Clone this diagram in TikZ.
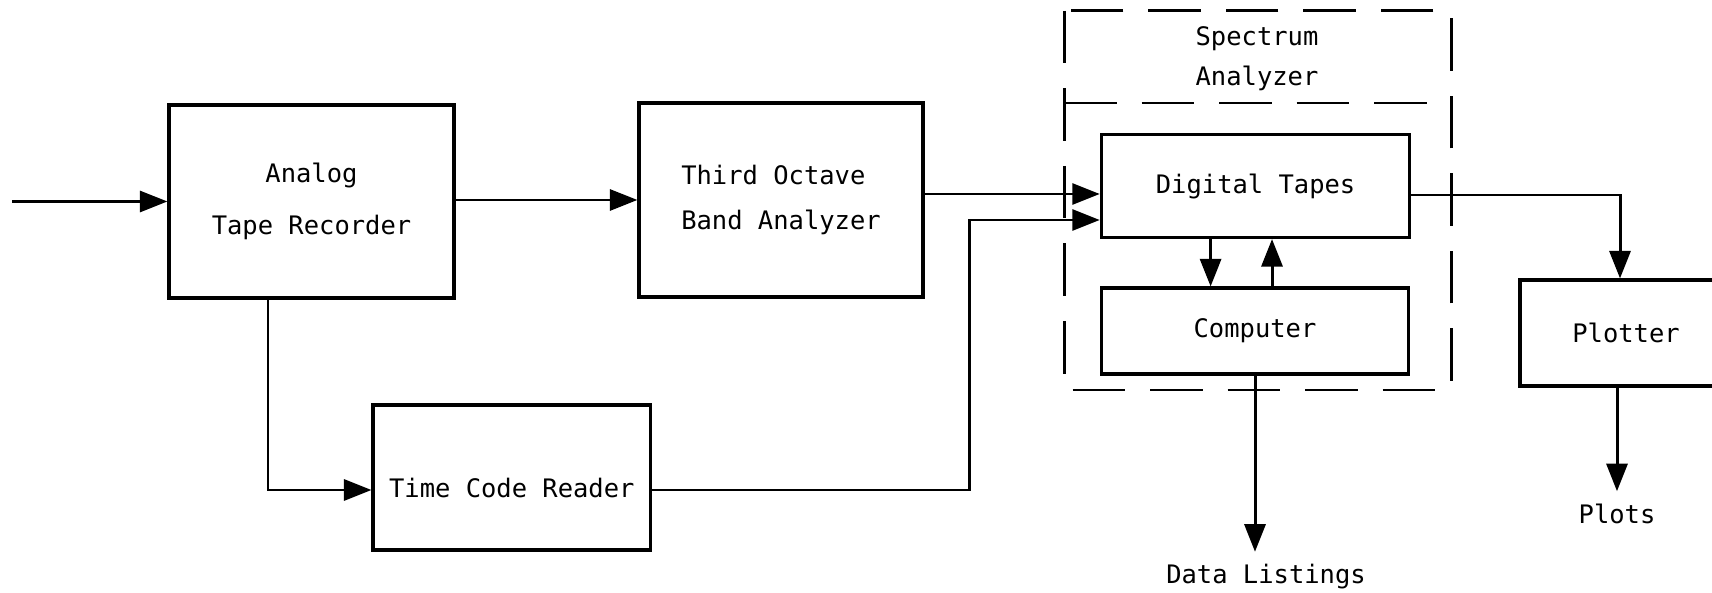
\documentclass[tikz,border=0pt]{standalone}
\usepackage{fontspec}
\setmainfont{DejaVu Sans Mono}
\usetikzlibrary{positioning,arrows.meta}

\begin{document}
\begin{tikzpicture}[x=0.2mm,y=-0.2mm]
\tikzstyle{block}=[draw,line width=1.8pt,align=center,font=\fontsize{14.5}{30}\selectfont]
\tikzstyle{flow}=[line width=1.7pt,-{Triangle[length=5.5mm,width=4.2mm]}]
\tikzstyle{outtext}=[inner sep=2.5mm,font=\fontsize{14.5}{20}\selectfont]
\tikzstyle{group}=[line width=1.7pt,dash pattern=on 10.5mm off 5mm]
\useasboundingbox (0,0) rectangle (1712,593);
\clip (0,0) rectangle (1712,593);
\node[block,minimum width=57mm,minimum height=38.6mm] (atr) at (311.5,201.5) {Analog\\Tape Recorder};
\node[block,align=left,font=\fontsize{14.5}{25.6}\selectfont,minimum width=56.8mm,minimum height=38.8mm] (toba) at (781,200) {Third Octave\\Band Analyzer};
\node[block,minimum width=55.5mm,minimum height=29mm,text height=8mm,text depth=0pt] (tcr) at (511.8,477.5) {Time Code Reader};
\node[block,minimum width=61.7mm,minimum height=20.6mm] (dt) at (1255.6,186) {Digital Tapes};
\node[block,minimum width=61.4mm,minimum height=17.2mm] (comp) at (1255,331) {Computer};
\node[block,minimum width=42.4mm,minimum height=21.2mm] (plotter) at (1626,333) {Plotter};
% spectrum analyzer frame
\draw[group] (1064,11) rectangle (1451,390);
\draw[group] (1064,103) -- (1451,103);
\node[outtext,font=\fontsize{14.5}{22.7}\selectfont,align=center] (salabel) at (1257,59) {Spectrum\\Analyzer};
\node[outtext] (plots) at (1617,514) {Plots};
\node[outtext] (listings) at (1266,577) {Data Listings};
% signal paths
\coordinate (in) at (12,201.5);
\draw[flow] (in) -- (atr.west);
\draw[flow] (atr.east |- toba.west) -- (toba.west);
\draw[flow] ([yshift=1.2mm]toba.east) -- ([yshift=1.2mm]toba.east -| dt.west);
\draw[flow] ([yshift=-2.5mm]tcr.east) -- ++(317.5,0) |- ([yshift=-6.8mm]dt.west);
\draw[flow] ([xshift=-8.7mm]atr.south) |- ([yshift=-2.5mm]tcr.west);
\draw[flow] ([xshift=-9mm]dt.south) -- ([xshift=-9mm]dt.south |- comp.north);
\draw[flow] ([xshift=3.4mm]comp.north) -- ([xshift=3.4mm]comp.north |- dt.south);
\draw[flow] ([yshift=-1.8mm]dt.east) -| ([xshift=-1.2mm]plotter.north);
\draw[flow] (plotter.south -| plots) -- (plots.north);
\draw[flow] (comp.south) -- (comp.south |- listings.north);
\end{tikzpicture}
\end{document}
